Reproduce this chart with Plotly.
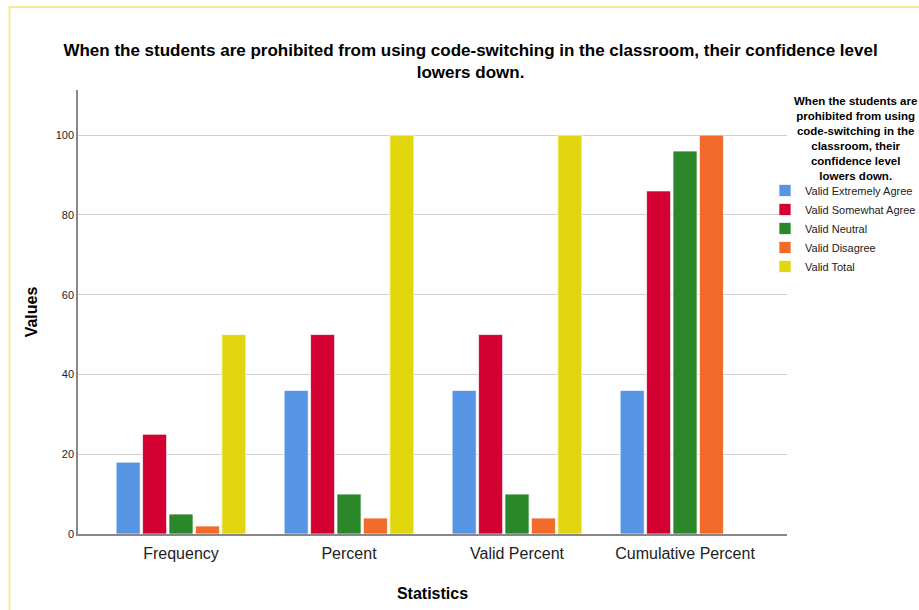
import plotly.graph_objects as go

# Categories on the x axis and the response levels shown as bar series
statistics = ["Frequency", "Percent", "Valid Percent", "Cumulative Percent"]
series_names = [
    "Valid Extremely Agree",
    "Valid Somewhat Agree",
    "Valid Neutral",
    "Valid Disagree",
    "Valid Total",
]
extremely_agree = [18, 36, 36, 36]
somewhat_agree = [25, 50, 50, 86]
neutral = [5, 10, 10, 96]
disagree = [2, 4, 4, 100]
total = [50, 100, 100, None]

series_values = [extremely_agree, somewhat_agree, neutral, disagree, total]
colors = ["#5595e4", "#d50032", "#2a882b", "#f26b2b", "#e2d70f"]

W, H = 919, 610
L, R, T, B = 78, 132, 90, 76
pw, ph = W - L - R, H - T - B

fig = go.Figure()
for name, vals, col in zip(series_names, series_values, colors):
    fig.add_trace(go.Bar(
        x=statistics, y=vals, name=name,
        marker=dict(color=col, line=dict(color="rgba(255,255,255,0.7)", width=1)),
    ))

title_text = ("When the students are prohibited from using code-switching in the classroom, "
              "their confidence level<br>lowers down.")
legend_title = ("When the students are<br>prohibited from using<br>code-switching in the<br>"
                "classroom, their<br>confidence level<br>lowers down.")

fig.update_layout(
    width=W, height=H,
    margin=dict(l=L, r=R, t=T, b=B, autoexpand=False),
    paper_bgcolor="white", plot_bgcolor="white",
    font=dict(family="Liberation Sans, Arial, sans-serif", color="#000"),
    barmode="group", bargap=0.214, bargroupgap=0.09,
    title=dict(text="<b>" + title_text + "</b>", x=0.512, xanchor="center",
               y=1 - 56 / H, yanchor="top",
               font=dict(size=17, color="#000")),
    xaxis=dict(range=[-0.613, 3.607], showgrid=False, showline=True,
               linecolor="#888", linewidth=1.5, ticks="",
               tickfont=dict(size=16, color="#222"), ticklabelstandoff=4,
               title=dict(text="<b>Statistics</b>", font=dict(size=16), standoff=27)),
    yaxis=dict(range=[0, 111.3], tickvals=[0, 20, 40, 60, 80, 100],
               showgrid=True, gridcolor="#cfcfcf", gridwidth=1,
               showline=True, linecolor="#888", linewidth=1.5, ticks="",
               zeroline=False, tickfont=dict(size=11, color="#222"),
               title=dict(text="<b>Values</b>", font=dict(size=16), standoff=14)),
    legend=dict(x=(765 - L) / pw, xanchor="left", y=1 - (176 - T) / ph, yanchor="top",
                bgcolor="rgba(0,0,0,0)", font=dict(size=11, color="#222"),
                itemwidth=30, tracegroupgap=0),
    showlegend=True,
)

# Legend heading, centred above the legend entries
fig.add_annotation(text="<b>" + legend_title + "</b>", xref="paper", yref="paper",
                   x=(855 - L) / pw, y=1 - (93 - T) / ph, xanchor="center", yanchor="top",
                   showarrow=False, align="center",
                   font=dict(size=11.5, color="#000"))

# Light frame around the chart
fig.add_shape(type="rect", xref="paper", yref="paper",
              x0=(9.5 - L) / pw, x1=(W + 20 - L) / pw,
              y0=1 + (T - (H + 20)) / ph, y1=1 + (T - 7) / ph,
              line=dict(color="#f8e79a", width=2), fillcolor="rgba(0,0,0,0)", layer="below")

fig.write_html("out.html")
